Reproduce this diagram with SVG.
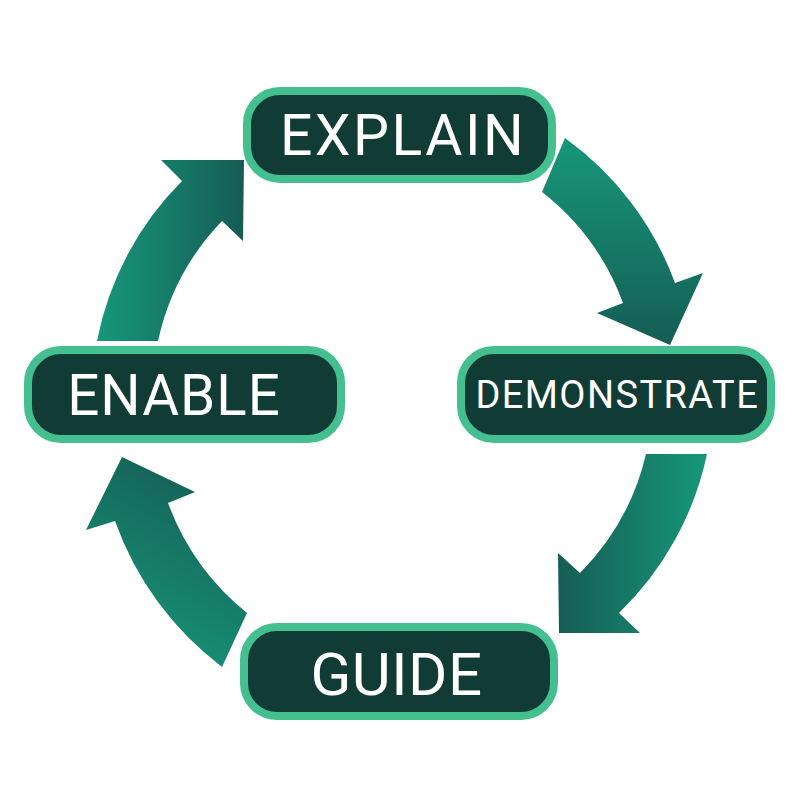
<svg xmlns="http://www.w3.org/2000/svg" width="800" height="800" viewBox="0 0 800 800">
<defs>
<linearGradient id="gLR" x1="0" y1="0" x2="1" y2="0"><stop offset="0" stop-color="#17977A"/><stop offset="1" stop-color="#155D54"/></linearGradient>
<linearGradient id="gRL" x1="1" y1="0" x2="0" y2="0"><stop offset="0" stop-color="#17977A"/><stop offset="1" stop-color="#155D54"/></linearGradient>
<linearGradient id="gTB" x1="0" y1="0" x2="0" y2="1"><stop offset="0" stop-color="#17977A"/><stop offset="1" stop-color="#155D54"/></linearGradient>
<linearGradient id="gBT" x1="0.3" y1="1" x2="0.7" y2="0"><stop offset="0" stop-color="#17977A"/><stop offset="1" stop-color="#155D54"/></linearGradient>
<style>
.box{fill:#113C35;stroke:#44BF90;stroke-width:8}
.lbl{fill:#FFFFFF;font-family:Roboto,"Open Sans",sans-serif;text-anchor:middle}
</style>
</defs>
<rect width="800" height="800" fill="#FFFFFF"/>
<g id="connectors">
<path id="a1" fill="url(#gLR)" d="M97,341 A309,309 0 0 1 182,181 L161,160 L244,160 L243,241 L222,221 A250,250 0 0 0 158,341 Z"/>
<path id="a2" fill="url(#gTB)" d="M565,138 A310,310 0 0 1 675,283 L703,273 L670,345 L597,313 L623,303 A250,250 0 0 0 542,192 Z"/>
<path id="a3" fill="url(#gRL)" d="M707,454 A310,310 0 0 1 619,613 L640,633 L559,633 L558,553 L580,573 A250,250 0 0 0 646,454 Z"/>
<path id="a4" fill="url(#gBT)" d="M222,667 A315,315 0 0 1 115,521 L86,530 L122,457 L195,492 L168,503 A255,255 0 0 0 247,613 Z"/>
</g>
<g id="explain"><rect class="box" x="247" y="91" width="305" height="88" rx="33"/><text class="lbl" x="403" y="155" font-size="57" letter-spacing="2.5">EXPLAIN</text></g>
<g id="demonstrate"><rect class="box" x="461" y="350" width="310" height="89" rx="33"/><text class="lbl" x="617.3" y="408" font-size="38" letter-spacing="1.4">DEMONSTRATE</text></g>
<g id="guide"><rect class="box" x="244" y="627" width="310" height="89" rx="33"/><text class="lbl" x="396.5" y="695" font-size="60" letter-spacing="0.5">GUIDE</text></g>
<g id="enable"><rect class="box" x="28" y="350" width="313" height="89" rx="33"/><text class="lbl" x="174" y="415" font-size="56.5" letter-spacing="1">ENABLE</text></g>
</svg>
